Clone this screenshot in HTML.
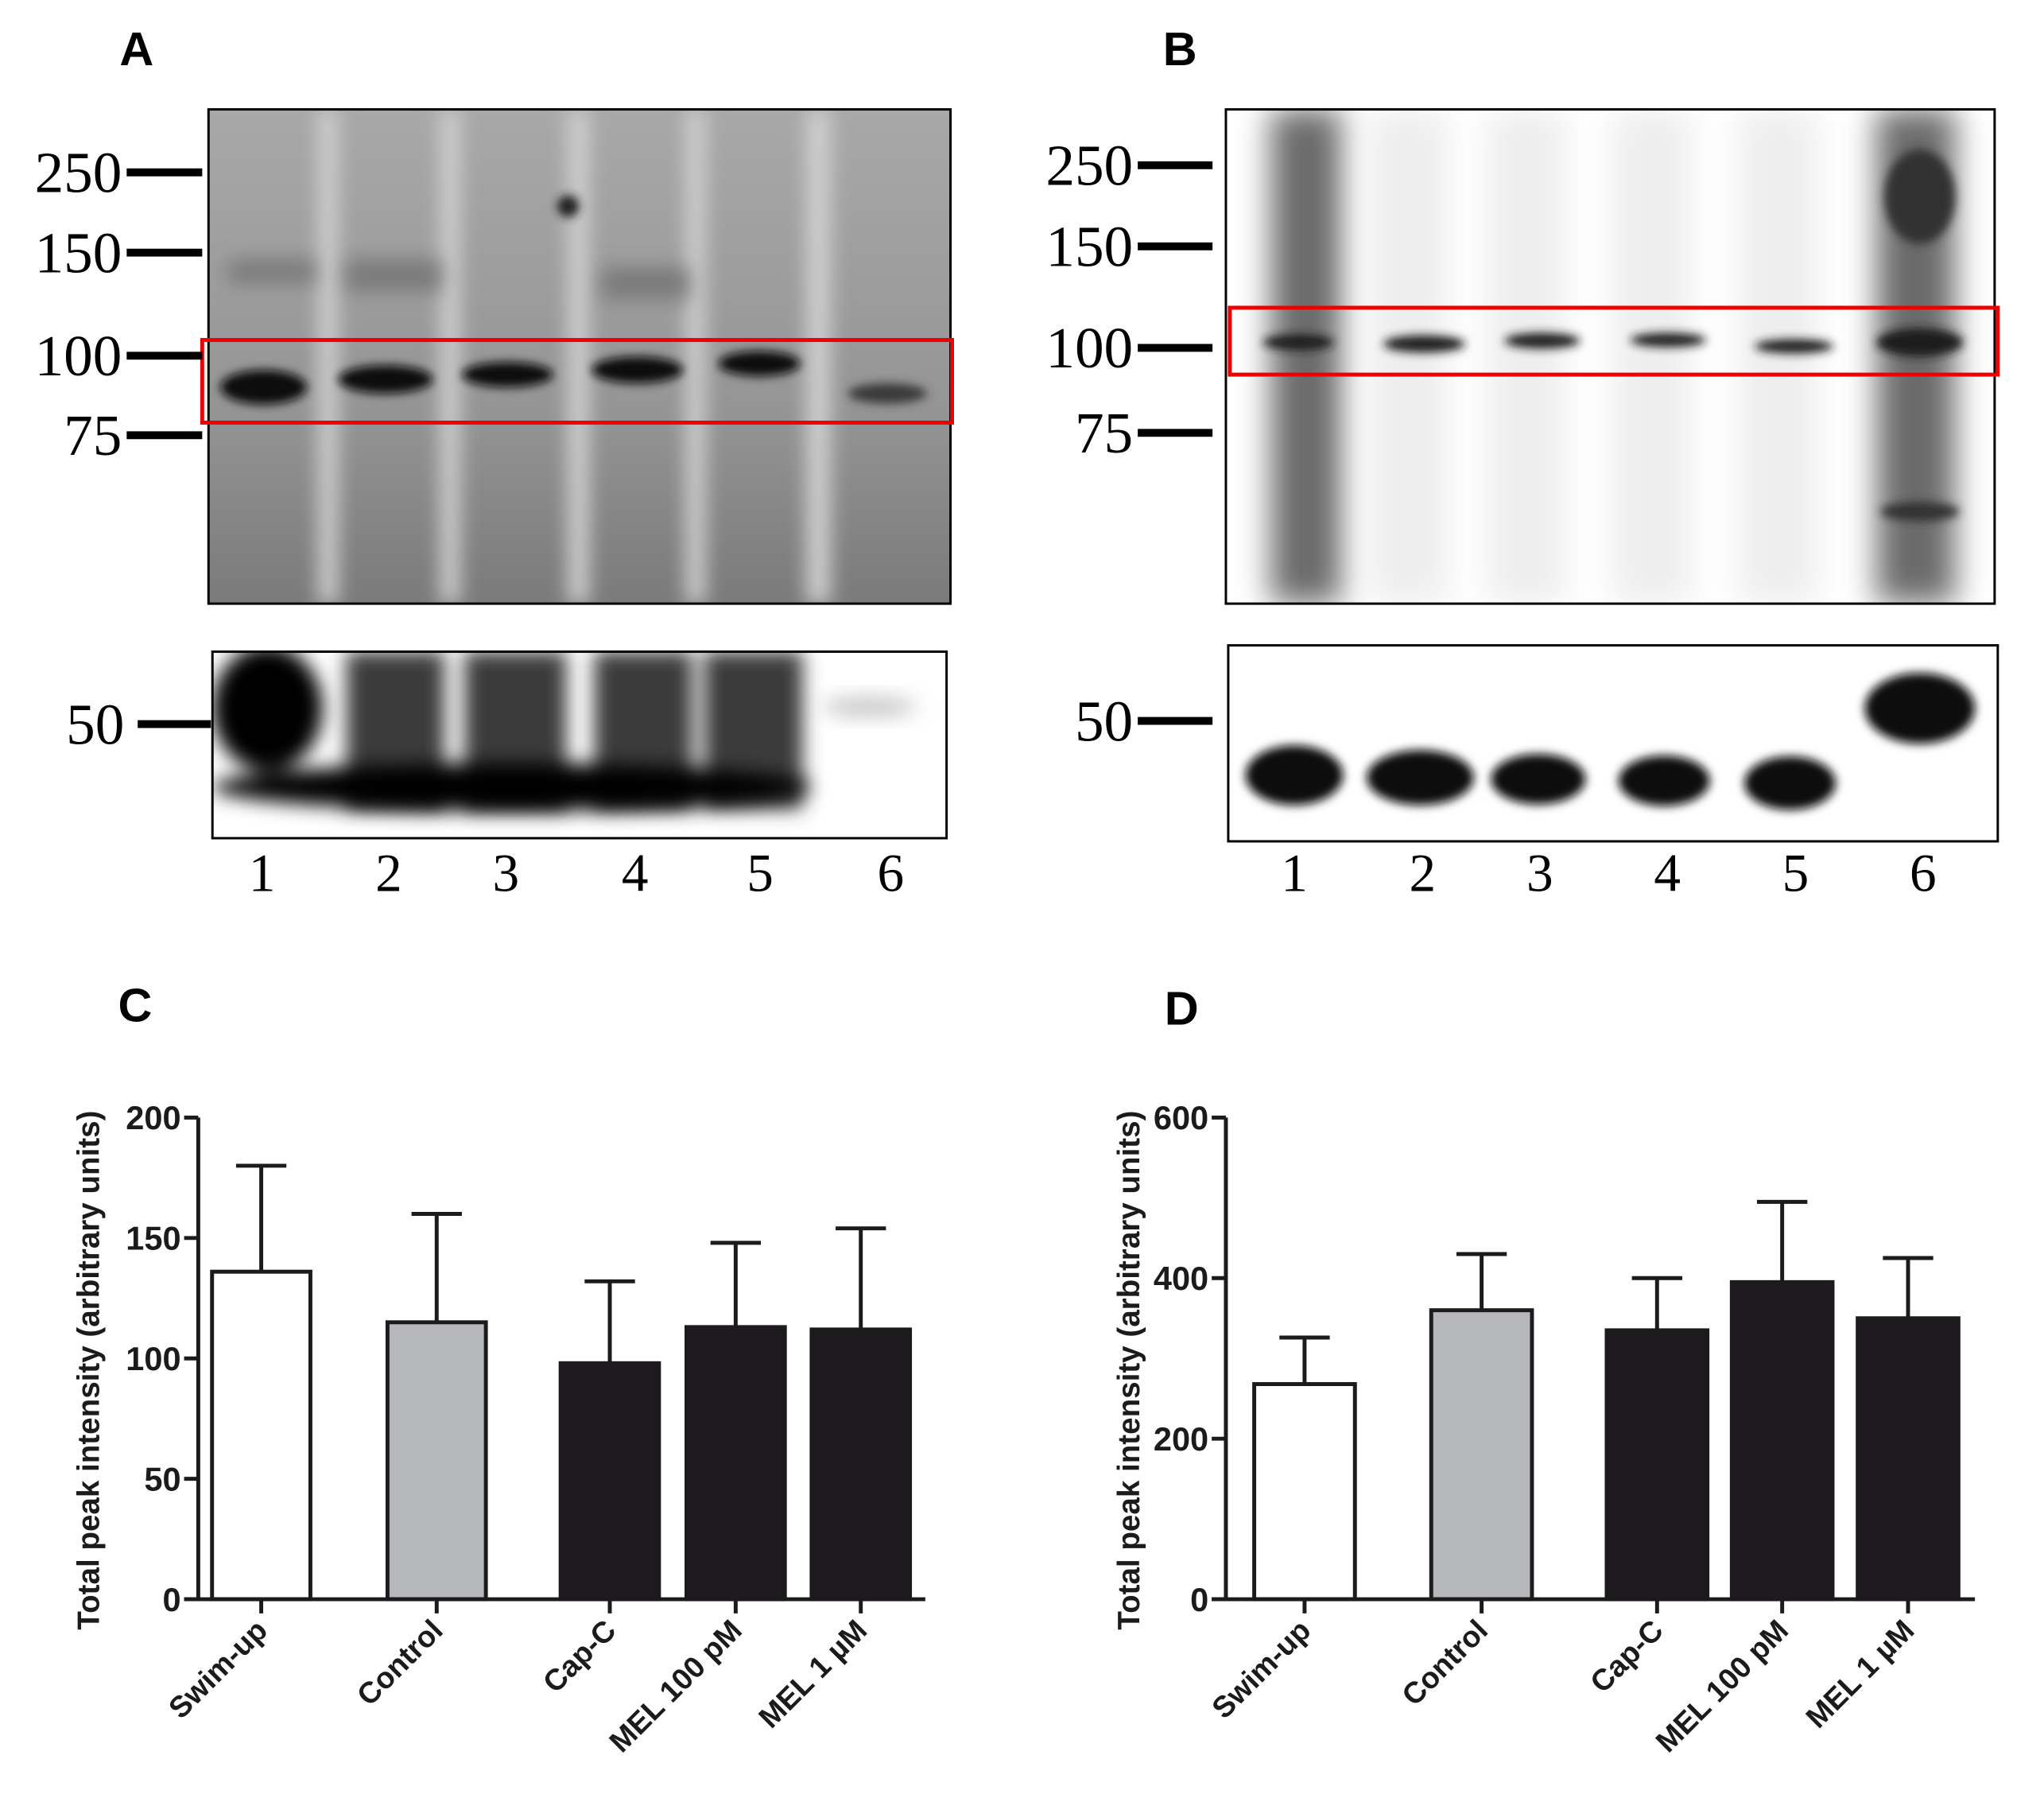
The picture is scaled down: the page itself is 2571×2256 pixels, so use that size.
<!DOCTYPE html>
<html><head><meta charset="utf-8"><style>
html,body{margin:0;padding:0;background:#fff;}
svg{display:block;}
.lbl{font-family:"Liberation Sans",sans-serif;font-weight:bold;}
.ser{font-family:"Liberation Serif",serif;}
</style></head><body>
<svg id="fig" width="2571" height="2256" viewBox="0 0 2571 2256" xmlns="http://www.w3.org/2000/svg">
<defs>
<filter id="b12" x="-50%" y="-50%" width="200%" height="200%"><feGaussianBlur stdDeviation="12"/></filter>
<filter id="b6" x="-50%" y="-50%" width="200%" height="200%"><feGaussianBlur stdDeviation="6"/></filter>
<filter id="b20" x="-50%" y="-50%" width="200%" height="200%"><feGaussianBlur stdDeviation="20"/></filter>
<clipPath id="cA"><rect x="265" y="139" width="943" height="628"/></clipPath>
<clipPath id="cA2"><rect x="270" y="828" width="933" height="237"/></clipPath>
<clipPath id="cB"><rect x="1558" y="139" width="977" height="628"/></clipPath>
<clipPath id="cB2"><rect x="1561" y="820" width="978" height="249"/></clipPath>
<linearGradient id="gA" x1="0" y1="0" x2="0" y2="1"><stop offset="0" stop-color="#a8a8a8"/><stop offset="0.6" stop-color="#959595"/><stop offset="1" stop-color="#7a7a7a"/></linearGradient>
</defs>
<g transform="scale(0.9897)">
<!-- Panel labels -->
<text class="lbl" x="152" y="83" font-size="60">A</text>
<text class="lbl" x="1478" y="83" font-size="60">B</text>
<text class="lbl" x="150" y="1298" font-size="60">C</text>
<text class="lbl" x="1480" y="1302" font-size="60">D</text>

<!-- Blot A top -->
<g clip-path="url(#cA)">
  <rect x="265" y="139" width="943" height="628" fill="url(#gA)"/>
  <g filter="url(#b12)" fill="#d0d0d0">
    <rect x="405" y="139" width="24" height="628"/><rect x="560" y="139" width="24" height="628"/>
    <rect x="722" y="139" width="26" height="628"/><rect x="872" y="139" width="24" height="628"/>
    <rect x="1025" y="139" width="30" height="628"/>
  </g>
  <g filter="url(#b12)" fill="#7a7a7a">
    <rect x="290" y="330" width="110" height="30"/><rect x="440" y="330" width="120" height="40"/>
    <rect x="765" y="340" width="110" height="40"/>
  </g>
  <g filter="url(#b6)" fill="#0a0a0a">
    <ellipse cx="335" cy="492" rx="55" ry="22"/><ellipse cx="490" cy="482" rx="60" ry="18"/>
    <ellipse cx="645" cy="476" rx="58" ry="16"/><ellipse cx="810" cy="470" rx="58" ry="17"/>
    <ellipse cx="965" cy="462" rx="52" ry="16"/>
  </g>
  <g filter="url(#b6)" fill="#3a3a3a"><ellipse cx="1128" cy="500" rx="50" ry="13"/></g>
  <circle cx="722" cy="262" r="14" fill="#222" filter="url(#b6)"/>
</g>
<rect x="265" y="139" width="943" height="628" fill="none" stroke="#000" stroke-width="3"/>
<rect x="257" y="432" width="953" height="105" fill="none" stroke="#e00" stroke-width="5"/>

<!-- Blot A bottom -->
<g clip-path="url(#cA2)">
  <rect x="270" y="828" width="933" height="237" fill="#fff"/>
  <g filter="url(#b12)" fill="#3a3a3a">
    <rect x="440" y="828" width="125" height="200"/><rect x="590" y="828" width="130" height="200"/>
    <rect x="755" y="828" width="125" height="200"/><rect x="895" y="828" width="125" height="200"/>
  </g>
  <g filter="url(#b12)" fill="#050505">
    <ellipse cx="340" cy="900" rx="70" ry="80"/>
    <ellipse cx="650" cy="1000" rx="380" ry="30"/>
  </g>
  <g filter="url(#b12)" fill="#ccc"><ellipse cx="1105" cy="898" rx="60" ry="14"/></g>
</g>
<rect x="270" y="828" width="933" height="237" fill="none" stroke="#000" stroke-width="3"/>

<!-- Blot B top -->
<g clip-path="url(#cB)">
  <rect x="1558" y="139" width="977" height="628" fill="#fff"/>
  <g filter="url(#b20)" fill="#6a6a6a"><rect x="1615" y="139" width="90" height="628"/><rect x="2385" y="139" width="100" height="628"/></g>
  <g filter="url(#b20)" fill="#eee"><rect x="1740" y="139" width="100" height="628"/><rect x="1890" y="139" width="100" height="628"/><rect x="2050" y="139" width="100" height="628"/><rect x="2210" y="139" width="100" height="628"/></g>
  <g filter="url(#b6)" fill="#1a1a1a">
    <ellipse cx="1650" cy="435" rx="45" ry="10"/><ellipse cx="1810" cy="437" rx="52" ry="11"/>
    <ellipse cx="1960" cy="433" rx="48" ry="10"/><ellipse cx="2120" cy="432" rx="48" ry="9"/>
    <ellipse cx="2280" cy="440" rx="50" ry="9"/><ellipse cx="2440" cy="435" rx="55" ry="18"/>
  </g>
  <g filter="url(#b6)" fill="#333"><ellipse cx="2440" cy="650" rx="50" ry="12"/><ellipse cx="2440" cy="250" rx="45" ry="60"/></g>
</g>
<rect x="1558" y="139" width="977" height="628" fill="none" stroke="#000" stroke-width="3"/>
<rect x="1563" y="391" width="976" height="85" fill="none" stroke="#e00" stroke-width="5"/>

<!-- Blot B bottom -->
<g clip-path="url(#cB2)">
  <rect x="1561" y="820" width="978" height="249" fill="#fff"/>
  <g filter="url(#b6)" fill="#080808">
    <ellipse cx="1645" cy="985" rx="62" ry="38"/><ellipse cx="1805" cy="988" rx="68" ry="35"/>
    <ellipse cx="1955" cy="990" rx="60" ry="32"/><ellipse cx="2115" cy="992" rx="58" ry="32"/>
    <ellipse cx="2275" cy="995" rx="58" ry="34"/><ellipse cx="2440" cy="900" rx="70" ry="45"/>
  </g>
</g>
<rect x="1561" y="820" width="978" height="249" fill="none" stroke="#000" stroke-width="3"/>

<g id="markers"></g>
<g id="chartC"></g>
<g id="chartD"></g>
</g>
</svg>
<script>
// Blot markers and lane numbers
const markerLabelsTop = ["250","150","100","75"];
const markerYA = [219, 321, 452, 553];
const markerYB = [210, 313, 442, 550];
const laneLabels = ["1","2","3","4","5","6"];
const laneXA = [333, 494, 643, 807, 966, 1132];
const laneXB = [1645, 1808, 1957, 2119, 2282, 2444];

const NS = "http://www.w3.org/2000/svg";
function mk(parent, tag, attrs, text){
  const e = document.createElementNS(NS, tag);
  for (const k in attrs) e.setAttribute(k, attrs[k]);
  if (text !== undefined) e.textContent = text;
  parent.appendChild(e);
  return e;
}
const mg = document.getElementById("markers");
function markers(ys, lineX1, lineX2, textX, pfx){
  ys.forEach((y,i)=>{
    const l = mk(mg,"line",{x1:lineX1,x2:lineX2,y1:y,y2:y,stroke:"#000","stroke-width":10});
    
    
    const t = mk(mg,"text",{x:textX,y:y+25,"text-anchor":"end","font-size":74,class:"ser"},markerLabelsTop[i]);
    
    
  });
}
markers(markerYA, 161, 257, 155, 'blot-a');
markers(markerYB, 1446, 1541, 1440, 'blot-b');
function fifty(y, x1, x2, tx, pfx){
  const l = mk(mg,"line",{x1:x1,x2:x2,y1:y,y2:y,stroke:"#000","stroke-width":10});
  
  
  const t = mk(mg,"text",{x:tx,y:y+25,"text-anchor":"end","font-size":74,class:"ser"},"50");
  
  
}
fifty(920, 175, 268, 158, 'blot-a');
fifty(916, 1446, 1541, 1440, 'blot-b');
function lanes(xs, y, pfx){
  xs.forEach((x,i)=>{
    const t = mk(mg,"text",{x:x,y:y,"text-anchor":"middle","font-size":68,class:"ser"},laneLabels[i]);
    
    
  });
}
lanes(laneXA, 1132, 'blot-a');
lanes(laneXB, 1132, 'blot-b');

// Bar charts
const categories = ["Swim-up","Control","Cap-C","MEL 100 pM","MEL 1 \u00b5M"];
const barFills = ["#ffffff","#b6b7ba","#1c1a1c","#1c1a1c","#1c1a1c"];
const valuesC = [136, 115, 98, 113, 112];
const errorsC = [44, 45, 34, 35, 42];
const ticksC = [0, 50, 100, 150, 200];
const valuesD = [268, 360, 335, 395, 350];
const errorsD = [58, 70, 65, 100, 75];
const ticksD = [0, 200, 400, 600];

function drawChart(gid, cfg, values, errors, ticks){
  const g = document.getElementById(gid);
  const yMax = ticks[ticks.length-1];
  const y = v => cfg.y0 - (v / yMax) * (cfg.y0 - cfg.yTop);
  const bw = cfg.barW;
  values.forEach((v,i)=>{
    const cx = cfg.centers[i];
    const top = y(v), et = y(v + errors[i]);
    const el = mk(g,"line",{x1:cx,x2:cx,y1:top,y2:et,stroke:"#1c1a1c","stroke-width":5});
    
    
    const cap = mk(g,"line",{x1:cx-32,x2:cx+32,y1:et,y2:et,stroke:"#1c1a1c","stroke-width":5});
    
    
    const r = mk(g,"rect",{x:cx-bw/2,y:top,width:bw,height:cfg.y0-top,fill:barFills[i],stroke:"#1c1a1c","stroke-width":5});
    
    
    const tk = mk(g,"line",{x1:cx,x2:cx,y1:cfg.y0,y2:cfg.y0+18,stroke:"#1c1a1c","stroke-width":5});
    
    
    const lx = cx + 10, ly = cfg.y0 + 42;
    const t = mk(g,"text",{x:lx,y:ly,"text-anchor":"end","font-size":38,class:"lbl",fill:"#1c1a1c",transform:`rotate(-45 ${lx} ${ly})`},categories[i]);
    
    
  });
  const ax = mk(g,"line",{x1:cfg.x0,x2:cfg.x0,y1:cfg.yTop,y2:cfg.y0+2,stroke:"#1c1a1c","stroke-width":5});
  
  
  const xa = mk(g,"line",{x1:cfg.x0-18,x2:cfg.xEnd,y1:cfg.y0,y2:cfg.y0,stroke:"#1c1a1c","stroke-width":5});
  
  
  ticks.forEach(tv=>{
    const yy = y(tv);
    const l = mk(g,"line",{x1:cfg.x0-18,x2:cfg.x0,y1:yy,y2:yy,stroke:"#1c1a1c","stroke-width":5});
    
    
    const t = mk(g,"text",{x:cfg.x0-22,y:yy+15,"text-anchor":"end","font-size":42,class:"lbl",fill:"#1c1a1c"},String(tv));
    
    
  });
  const tx = cfg.titleX, ty = (cfg.y0 + cfg.yTop)/2 + 15;
  const tt = mk(g,"text",{x:tx,y:ty,"text-anchor":"middle","font-size":39,class:"lbl",fill:"#1c1a1c",transform:`rotate(-90 ${tx} ${ty})`},"Total peak intensity (arbitrary units)");
  
  
}
drawChart("chartC", {x0:252, xEnd:1176, y0:2032, yTop:1420, barW:125, centers:[332,555,775,935,1094], titleX:126}, valuesC, errorsC, ticksC);
drawChart("chartD", {x0:1558, xEnd:2510, y0:2032, yTop:1420, barW:128, centers:[1658,1883,2106,2265,2425], titleX:1448}, valuesD, errorsD, ticksD);
</script>
</body></html>
